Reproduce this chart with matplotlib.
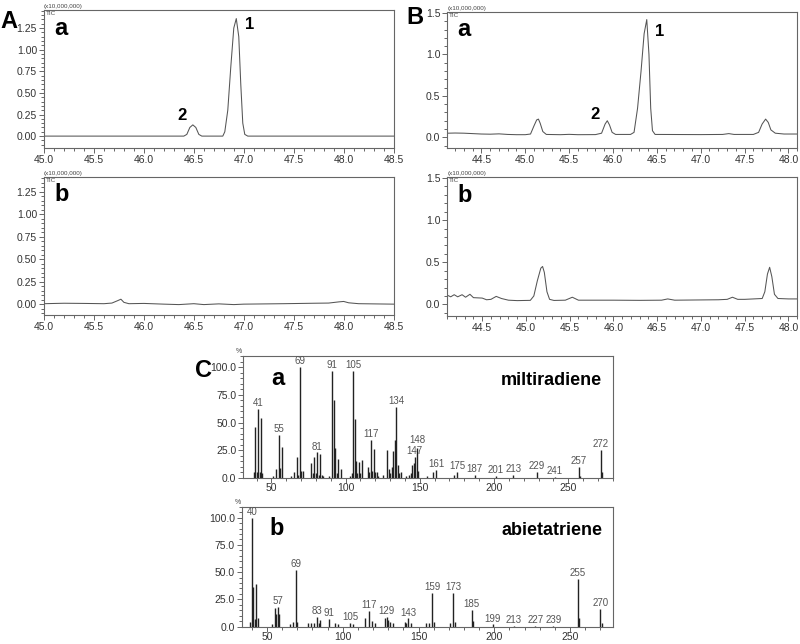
import matplotlib
matplotlib.use("Agg")
import matplotlib.pyplot as plt
from matplotlib.ticker import MultipleLocator, FormatStrFormatter

plt.rcParams['font.family'] = ['Liberation Sans', 'DejaVu Sans']

# ---------------- data ----------------
# Panel A a: retention time (min) vs TIC (x10,000,000)
A_a_time = [45.0, 46.40, 46.43, 46.46, 46.49, 46.52, 46.55, 46.58, 46.79, 46.81, 46.84, 46.87,
            46.90, 46.925, 46.95, 46.97, 46.99, 47.01, 47.04, 48.5]
A_a_tic = [0.0, 0.0, 0.02, 0.10, 0.13, 0.10, 0.02, 0.0, 0.0, 0.05, 0.30, 0.80,
           1.25, 1.36, 1.15, 0.60, 0.15, 0.02, 0.0, 0.0]

A_b_time = [45.0, 45.2, 45.4, 45.6, 45.68, 45.74, 45.77, 45.80, 45.85, 46.0, 46.2, 46.35,
            46.5, 46.6, 46.75, 46.9, 47.0, 47.4, 47.7, 47.85, 47.95, 48.0, 48.05, 48.15, 48.5]
A_b_tic = [0.005, 0.01, 0.008, 0.005, 0.012, 0.04, 0.055, 0.02, 0.005, 0.008, 0.0, -0.005,
           0.005, -0.005, 0.003, -0.005, 0.0, 0.005, 0.01, 0.012, 0.025, 0.03, 0.015, 0.005, 0.0]

B_a_time = [44.12, 44.2, 44.3, 44.4, 44.5, 44.6, 44.7, 44.8, 44.9, 45.0, 45.06, 45.10, 45.13,
            45.15, 45.17, 45.20, 45.24, 45.4, 45.5, 45.6, 45.8, 45.87, 45.91, 45.935, 45.96,
            45.99, 46.03, 46.2, 46.24, 46.28, 46.32, 46.355, 46.385, 46.41, 46.43, 46.45, 46.48,
            47.0, 47.25, 47.32, 47.38, 47.6, 47.66, 47.70, 47.74, 47.77, 47.80, 47.85, 47.95, 48.1]
B_a_tic = [0.05, 0.052, 0.05, 0.045, 0.04, 0.038, 0.042, 0.035, 0.032, 0.032, 0.04, 0.14, 0.21,
           0.22, 0.17, 0.07, 0.035, 0.032, 0.036, 0.032, 0.033, 0.05, 0.16, 0.20, 0.15,
           0.06, 0.035, 0.035, 0.06, 0.35, 0.80, 1.25, 1.42, 1.00, 0.35, 0.08, 0.035,
           0.033, 0.035, 0.045, 0.035, 0.035, 0.06, 0.16, 0.22, 0.18, 0.09, 0.05, 0.04, 0.04]

B_b_time = [44.10, 44.14, 44.18, 44.22, 44.27, 44.31, 44.36, 44.40, 44.5, 44.55, 44.6, 44.66,
            44.72, 44.8, 44.9, 45.05, 45.09, 45.13, 45.17, 45.19, 45.21, 45.24, 45.27, 45.32,
            45.45, 45.53, 45.6, 46.0, 46.3, 46.55, 46.62, 46.7, 47.2, 47.30, 47.36, 47.42, 47.5,
            47.6, 47.7, 47.73, 47.76, 47.785, 47.81, 47.84, 47.88, 48.0, 48.1]
B_b_tic = [0.11, 0.09, 0.115, 0.09, 0.115, 0.085, 0.12, 0.08, 0.075, 0.055, 0.06, 0.095,
           0.07, 0.05, 0.045, 0.048, 0.10, 0.28, 0.43, 0.45, 0.38, 0.15, 0.06, 0.047,
           0.05, 0.085, 0.05, 0.05, 0.048, 0.05, 0.065, 0.05, 0.055, 0.06, 0.085, 0.06, 0.06,
           0.065, 0.07, 0.15, 0.36, 0.44, 0.33, 0.12, 0.07, 0.065, 0.065]

# Panel C a: miltiradiene mass spectrum (m/z, relative intensity %)
Ca_mz = [38, 39, 40, 41, 42, 43, 44, 51, 53, 55, 56, 57, 63, 65, 67, 68, 69, 70, 71, 77, 78, 79,
         80, 81, 82, 83, 84, 85, 89, 91, 92, 93, 94, 95, 97, 103, 104, 105, 106, 107, 108, 109,
         110, 111, 115, 116, 117, 118, 119, 120, 121, 122, 125, 128, 129, 130, 131, 132, 133,
         134, 135, 136, 137, 141, 143, 144, 145, 146, 147, 148, 149, 155, 159, 161, 173, 175,
         187, 201, 213, 229, 241, 257, 258, 272, 273]
Ca_int = [5, 46, 5, 62, 5, 54, 4, 2, 8, 39, 9, 28, 2, 5, 19, 3, 100, 6, 6, 13, 4, 19,
          4, 23, 3, 22, 3, 2, 2, 97, 70, 27, 4, 17, 8, 2, 4, 97, 53, 15, 4, 14,
          4, 16, 10, 5, 34, 6, 26, 5, 5, 2, 3, 25, 8, 4, 10, 24, 34,
          64, 12, 4, 5, 2, 3, 4, 12, 13, 19, 27, 6, 2, 5, 7, 3, 5,
          3, 2, 3, 5, 1, 10, 2, 25, 5]
Ca_labels = [41, 55, 69, 81, 91, 105, 117, 134, 147, 148, 161, 175, 187, 201, 213, 229, 241, 257, 272]

# Panel C b: abietatriene mass spectrum
Cb_mz = [39, 40, 41, 42, 43, 44, 53, 55, 56, 57, 58, 65, 67, 69, 70, 77, 79, 81, 83, 84, 85,
         91, 95, 97, 105, 107, 115, 117, 119, 121, 128, 129, 130, 131, 133, 141, 142, 143, 145,
         155, 157, 159, 160, 171, 173, 174, 185, 186, 199, 213, 227, 239, 255, 256, 270, 271]
Cb_int = [4, 100, 36, 7, 39, 8, 2, 17, 12, 18, 12, 2, 4, 52, 4, 3, 3, 3, 9, 3, 6,
          7, 3, 2, 3, 2, 8, 14, 5, 3, 8, 9, 6, 4, 3, 4, 3, 7.5, 3,
          3, 3, 31, 4, 3, 31, 4, 15, 5, 2, 1, 1, 1, 44, 8, 16, 3]
Cb_labels = [40, 57, 69, 83, 91, 105, 117, 129, 143, 159, 173, 185, 199, 213, 227, 239, 255, 270]

# ---------------- figure ----------------
fig = plt.figure(figsize=(8.0, 6.44), dpi=100)

tick_col = '#333333'
spine_col = '#666666'
line_col = '#555555'


def style_axes(ax):
    for s in ax.spines.values():
        s.set_color(spine_col)
        s.set_linewidth(0.8)
    ax.tick_params(which='both', direction='out', color=spine_col, labelcolor=tick_col,
                   labelsize=7.5, width=0.7)
    ax.tick_params(which='major', length=3.5, pad=1.5)
    ax.tick_params(which='minor', length=2)


def chrom(rect, t, v, xlim, ylim, ymaj, ymin, yfmt, letter, peaks=None):
    ax = fig.add_axes(rect)
    ax.plot(t, v, color=line_col, lw=0.75)
    ax.set_xlim(*xlim)
    ax.set_ylim(*ylim)
    ax.xaxis.set_major_locator(MultipleLocator(0.5))
    ax.xaxis.set_minor_locator(MultipleLocator(0.1))
    ax.xaxis.set_major_formatter(FormatStrFormatter('%.1f'))
    ax.yaxis.set_major_locator(MultipleLocator(ymaj))
    ax.yaxis.set_minor_locator(MultipleLocator(ymin))
    ax.yaxis.set_major_formatter(FormatStrFormatter(yfmt))
    style_axes(ax)
    ax.text(0.0, 1.01, '(x10,000,000)', transform=ax.transAxes, fontsize=4.5,
            color='#444444', ha='left', va='bottom')
    ax.text(0.005, 0.995, 'TIC', transform=ax.transAxes, fontsize=4.5,
            color='#444444', ha='left', va='top')
    ax.text(0.03, 0.87, letter, transform=ax.transAxes, fontsize=17,
            fontweight='bold', ha='left', va='center')
    if peaks:
        for (px, py, lab) in peaks:
            ax.text(px, py, lab, fontsize=12, fontweight='bold', ha='center', va='center')
    return ax


W = 0.437
chrom([0.055, 0.770, W, 0.2143], A_a_time, A_a_tic, (45.0, 48.5), (-0.139, 1.458),
      0.25, 0.05, '%.2f', 'a', [(47.06, 1.29, '1'), (46.38, 0.24, '2')])
chrom([0.055, 0.511, W, 0.2143], A_b_time, A_b_tic, (45.0, 48.5), (-0.12, 1.417),
      0.25, 0.05, '%.2f', 'b')
chrom([0.559, 0.770, 0.4375, 0.2112], B_a_time, B_a_tic, (44.11, 48.1), (-0.13, 1.51),
      0.5, 0.1, '%.1f', 'a', [(46.53, 1.28, '1'), (45.80, 0.27, '2')])
chrom([0.559, 0.509, 0.4375, 0.216], B_b_time, B_b_tic, (44.1, 48.1), (-0.14, 1.51),
      0.5, 0.1, '%.1f', 'b')

fig.text(0.011, 0.966, 'A', fontsize=17, fontweight='bold', ha='center', va='center')
fig.text(0.519, 0.973, 'B', fontsize=17, fontweight='bold', ha='center', va='center')
fig.text(0.254, 0.425, 'C', fontsize=17, fontweight='bold', ha='center', va='center')

label_nudge = {147: (-0.5, 0.0), 148: (0.5, 1.5)}


def spectrum(rect, mz, inten, labels, xlim, letter, name, nudge):
    ax = fig.add_axes(rect)
    ax.vlines(mz, 0, inten, color='#222222', lw=1.0)
    ax.set_xlim(*xlim)
    ax.set_ylim(0, 110)
    ax.xaxis.set_major_locator(MultipleLocator(50))
    ax.xaxis.set_minor_locator(MultipleLocator(10))
    ax.yaxis.set_major_locator(MultipleLocator(25))
    ax.yaxis.set_minor_locator(MultipleLocator(5))
    ax.yaxis.set_major_formatter(FormatStrFormatter('%.1f'))
    style_axes(ax)
    ax.tick_params(axis='x', which='major', pad=0.5)
    lookup = dict(zip(mz, inten))
    for m in labels:
        dx, dy = nudge.get(m, (0, 0))
        ax.text(m + dx, lookup[m] + 0.8 + dy, str(m), fontsize=7, color='#555555',
                ha='center', va='bottom')
    ax.text(-0.02, 1.01, '%', transform=ax.transAxes, fontsize=5, color='#444444',
            ha='left', va='bottom')
    ax.text(0.075, 0.82, letter, transform=ax.transAxes, fontsize=17,
            fontweight='bold', ha='left', va='center')
    ax.text(0.97, 0.80, name, transform=ax.transAxes, fontsize=13,
            fontweight='bold', ha='right', va='center')
    return ax


spectrum([0.304, 0.258, 0.4625, 0.189], Ca_mz, Ca_int, Ca_labels, (31, 280.3), 'a',
         'miltiradiene', label_nudge)
spectrum([0.3025, 0.027, 0.464, 0.186], Cb_mz, Cb_int, Cb_labels, (33.5, 278.5), 'b',
         'abietatriene', {})

fig.savefig('out.png', dpi=100)
